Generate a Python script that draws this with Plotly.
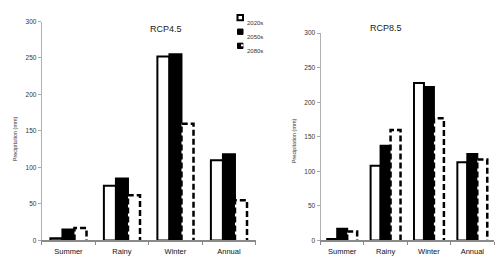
import plotly.graph_objects as go

categories = ["Summer", "Rainy", "Winter", "Annual"]
series_names = ["2020s", "2050s", "2080s"]
rcp45_2020s = [3, 75, 252, 110]
rcp45_2050s = [15, 85, 255, 118]
rcp45_2080s = [17, 62, 160, 55]
rcp85_2020s = [2, 108, 228, 113]
rcp85_2050s = [17, 137, 222, 125]
rcp85_2080s = [13, 160, 177, 117]
y_ticks = [0, 50, 100, 150, 200, 250, 300]
panel_titles = ["RCP4.5", "RCP8.5"]
y_title = "Precipitation (mm)"

W, H = 500, 258
font = "Liberation Sans, Arial, sans-serif"

def px(x):
    return x / W

def py(y):
    return 1 - y / H

fig = go.Figure()

panels = [
    dict(xa="x", ya="y", vals=[rcp45_2020s, rcp45_2050s, rcp45_2080s], w=0.225),
    dict(xa="x2", ya="y2", vals=[rcp85_2020s, rcp85_2050s, rcp85_2080s], w=0.23),
]

for p in panels:
    w = p["w"]
    idx = list(range(len(categories)))
    v20, v50, v80 = p["vals"]
    fig.add_trace(go.Bar(x=[i - w for i in idx], y=v20, width=w, name=series_names[0],
                         marker=dict(color="white", line=dict(color="black", width=2)),
                         xaxis=p["xa"], yaxis=p["ya"], showlegend=False))
    fig.add_trace(go.Bar(x=idx, y=v50, width=w, name=series_names[1],
                         marker=dict(color="black", line=dict(color="black", width=2)),
                         xaxis=p["xa"], yaxis=p["ya"], showlegend=False))
    fig.add_trace(go.Bar(x=[i + w for i in idx], y=v80, width=w, name=series_names[2],
                         marker=dict(color="white", line=dict(color="white", width=0)),
                         xaxis=p["xa"], yaxis=p["ya"], showlegend=False))
    xs, ys = [], []
    for i, v in zip(idx, v80):
        x0 = i + w / 2
        x1 = i + 1.5 * w
        xs += [x0, x0, x1, x1, None]
        ys += [0, v, v, 0, None]
    fig.add_trace(go.Scatter(x=xs, y=ys, mode="lines", showlegend=False, hoverinfo="skip",
                             line=dict(color="black", width=2.5, dash="6px,3px"),
                             xaxis=p["xa"], yaxis=p["ya"]))


def xaxis_cfg(domain, anchor):
    return dict(domain=domain, anchor=anchor, range=[-0.5, 3.5],
                tickvals=list(range(len(categories))), ticktext=categories,
                ticks="", showline=True, linecolor="#8a8a8a", linewidth=2,
                showgrid=False, zeroline=False, ticklabelstandoff=3,
                tickfont=dict(size=7.5, color="#111", family=font),
                minor=dict(tickvals=[-0.5, 0.5, 1.5, 2.5, 3.5], ticks="outside",
                           ticklen=3, tickcolor="#8a8a8a", tickwidth=1, showgrid=False),
                fixedrange=True)


def yaxis_cfg(domain, anchor):
    return dict(domain=domain, anchor=anchor, range=[0, 300], tickvals=y_ticks,
                ticks="outside", ticklen=3, tickcolor="#aaaaaa", tickwidth=1,
                showline=True, linecolor="#b0b0b0", linewidth=1,
                showgrid=False, zeroline=False,
                tickfont=dict(size=6.5, color="#333", family=font),
                fixedrange=True)


annotations = [
    dict(text=panel_titles[0], x=px(148), y=py(18), xref="paper", yref="paper", showarrow=False,
         font=dict(size=9, color="#222", family=font)),
    dict(text=panel_titles[1], x=px(404), y=py(17), xref="paper", yref="paper", showarrow=False,
         font=dict(size=9, color="#222", family=font)),
    dict(text=y_title, x=px(10), y=py(139), xref="paper", yref="paper", showarrow=False,
         textangle=-90, font=dict(size=5.5, color="#333", family=font)),
    dict(text=y_title, x=px(294), y=py(141), xref="paper", yref="paper", showarrow=False,
         textangle=-90, font=dict(size=5.5, color="#333", family=font)),
]

# custom small legend
shapes = []
leg_y = [14, 28.5, 43]
for k, (name, yy) in enumerate(zip(series_names, leg_y)):
    x0, x1 = px(237.5), px(243)
    y0, y1 = py(yy + 2.75), py(yy - 2.75)
    if k == 0:
        shapes.append(dict(type="rect", xref="paper", yref="paper", x0=x0, x1=x1, y0=y0, y1=y1,
                           fillcolor="white", line=dict(color="black", width=2)))
    elif k == 1:
        shapes.append(dict(type="rect", xref="paper", yref="paper", x0=x0, x1=x1, y0=y0, y1=y1,
                           fillcolor="black", line=dict(color="black", width=1)))
    else:
        shapes.append(dict(type="rect", xref="paper", yref="paper", x0=x0, x1=x1, y0=y0, y1=y1,
                           fillcolor="black", line=dict(color="black", width=1)))
        shapes.append(dict(type="rect", xref="paper", yref="paper", x0=px(241), x1=px(243.5),
                           y0=py(yy + 0.5), y1=py(yy - 1.5),
                           fillcolor="white", line=dict(width=0)))
    annotations.append(dict(text=name, x=px(244.5), y=py(yy), xref="paper", yref="paper",
                            xanchor="left", showarrow=False,
                            font=dict(size=6, color="#333", family=font)))

fig.update_layout(
    width=W, height=H,
    margin=dict(l=0, r=0, t=0, b=0),
    paper_bgcolor="white", plot_bgcolor="white",
    barmode="overlay",
    xaxis=xaxis_cfg([px(41.7), px(255.7)], "y"),
    yaxis=yaxis_cfg([py(243), py(18)], "x"),
    xaxis2=xaxis_cfg([px(320.5), px(494)], "y2"),
    yaxis2=yaxis_cfg([py(243), py(30)], "x2"),
    annotations=annotations,
    shapes=shapes,
    showlegend=False,
)

fig.write_html("out.html", config={"displayModeBar": False},
               post_script="document.body.style.margin='0px';")
